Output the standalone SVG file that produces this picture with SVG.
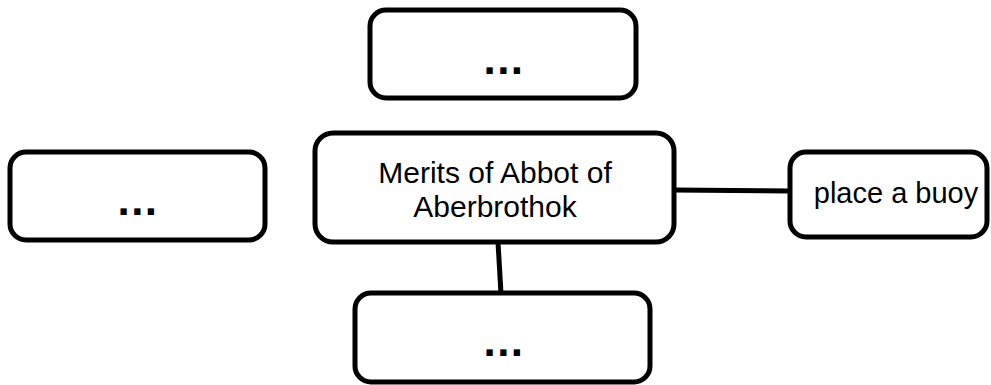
<svg xmlns="http://www.w3.org/2000/svg" width="991" height="385" viewBox="0 0 991 385">
<style>
.box{fill:#fff;stroke:#000;stroke-width:5}
.con{stroke:#000;stroke-width:5;fill:none}
.t{font-family:"Liberation Sans",Arial,sans-serif;font-size:30px;fill:#000;text-anchor:middle}
.r{font-size:29px}
.d{font-family:"Liberation Sans",Arial,sans-serif;font-size:44px;font-weight:bold;letter-spacing:1.5px;fill:#000;text-anchor:middle}
</style>
<rect width="991" height="385" fill="#fff"/>
<g id="connectors">
<line class="con" x1="674" y1="190" x2="790" y2="191"/>
<line class="con" x1="498" y1="242" x2="501" y2="294"/>
</g>
<g id="top"><rect class="box" x="370" y="10" width="266" height="88" rx="16"/><text class="d" x="504" y="74">...</text></g>
<g id="left"><rect class="box" x="10" y="152" width="255" height="88" rx="16"/><text class="d" x="138" y="215">...</text></g>
<g id="center"><rect class="box" x="315" y="133" width="359" height="109" rx="18"/><text class="t" x="495" y="183">Merits of Abbot of</text><text class="t" x="495" y="217">Aberbrothok</text></g>
<g id="right"><rect class="box" x="790" y="152" width="197" height="85" rx="16"/><text class="t r" x="896" y="203">place a buoy</text></g>
<g id="bottom"><rect class="box" x="355" y="293" width="295" height="89" rx="16"/><text class="d" x="504" y="356">...</text></g>
</svg>
